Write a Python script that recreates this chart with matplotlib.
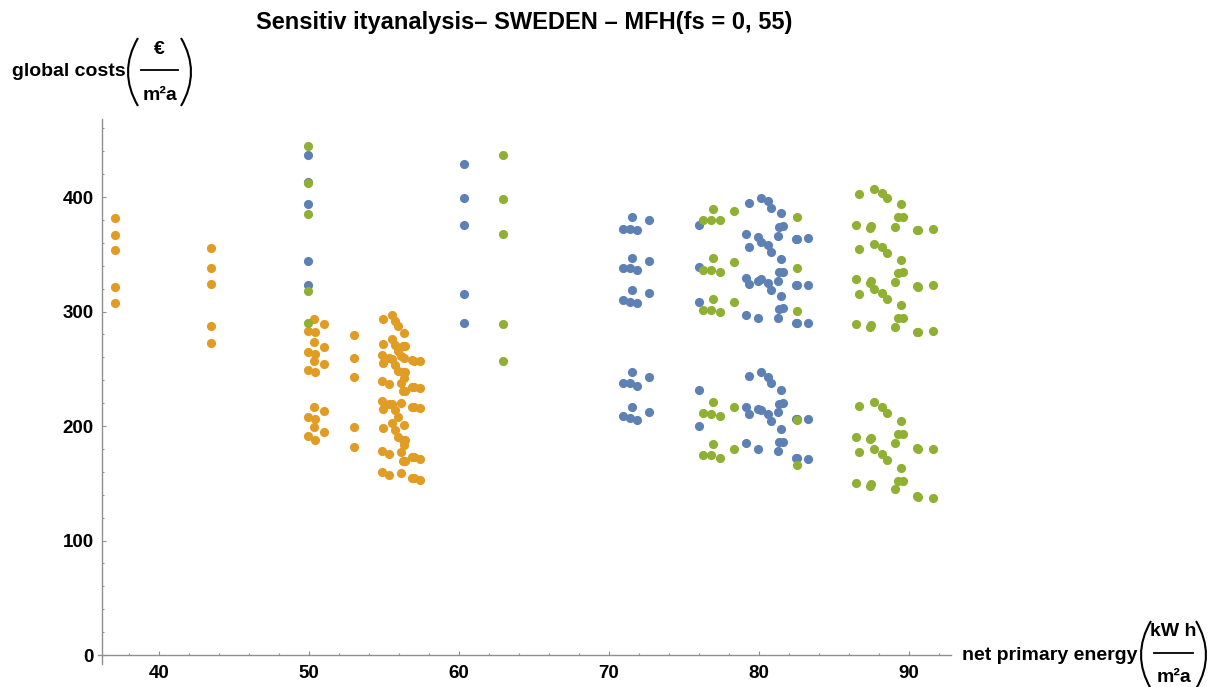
import matplotlib
matplotlib.use("Agg")
import matplotlib.pyplot as plt
from matplotlib.path import Path
from matplotlib.patches import PathPatch
from matplotlib.lines import Line2D
from matplotlib.ticker import FixedLocator

plt.rcParams['font.family'] = ['Liberation Sans', 'DejaVu Sans']
plt.rcParams['font.weight'] = 'bold'

BLUE = '#5E81B5'
ORANGE = '#E19C24'
GREEN = '#8FB032'
AXIS_GREY = '#8f8f8f'

# ---- blue series ----
blue_col50 = (49.91, [437.0, 413.0, 393.5, 344.0, 323.5])
blue_col60 = (60.36, [428.5, 399.4, 375.5, 315.0, 290.2])
blue_col76 = (76.0, [375.5, 339.2, 308.6, 231.4, 200.3])
blue_g71_x = [71.53, 70.95, 71.4, 71.85, 72.67]
blue_g71_y = [
    [382.2, 371.8, 371.8, 371.2, 379.9],
    [347.0, 337.7, 337.7, 336.2, 344.4],
    [318.8, 310.0, 308.6, 307.1, 315.9],
    [246.9, 237.3, 237.3, 234.9, 242.5],
    [216.9, 208.7, 207.3, 205.2, 212.5],
]
blue_g80_x = [79.36, 80.13, 80.58, 80.8, 81.47, 81.36, 81.62, 81.24, 79.11, 79.91, 82.44, 82.56, 83.29]
blue_g80_y = [
    [394.5, 399.4, 396.5, 390.7, 385.7, 374.1, 375.0, 366.2, 367.4, 365.4, 363.3, 363.3, 364.5],
    [356.0, 361.0, 358.1, 352.3, 345.9, 334.2, 334.8, 326.6, 329.0, 326.9, 323.1, 323.1, 323.1],
    [323.7, 328.1, 324.6, 318.8, 313.8, 302.2, 302.8, 294.6, 296.9, 294.6, 290.2, 290.2, 290.2],
    [243.7, 247.5, 243.1, 237.3, 231.4, 218.9, 219.8, 211.9, 216.9, 214.8, 206.1, 206.1, 205.8],
    [210.2, 214.0, 210.2, 204.4, 197.4, 185.7, 186.3, 178.2, 184.9, 179.9, 172.3, 172.3, 171.2],
]

# ---- orange series ----
orange_col37 = (37.05, [381.9, 366.6, 354.1, 321.1, 307.6])
orange_col43 = (43.45, [355.8, 338.2, 323.8, 287.5, 272.1])
orange_col53 = (53.0, [279.7, 259.1, 242.5, 199.1, 181.7])
orange_g50_x = [50.3, 51.0, 49.9, 50.4]
orange_g50_y = [
    [293.2, 289.1, 283.4, 281.8],
    [273.4, 269.3, 264.6, 262.9],
    [256.8, 254.1, 249.3, 246.9],
    [216.9, 212.8, 207.9, 206.1],
    [199.1, 195.0, 191.7, 187.8],
]
orange_g56_x = [54.95, 55.51, 55.73, 55.95, 56.35, 56.25, 56.42, 56.14, 54.84, 55.31, 56.87, 56.97, 57.42]
orange_g56_y = [
    [293.2, 296.9, 292.0, 287.3, 281.0, 270.0, 270.0, 260.9, 262.4, 259.7, 257.4, 257.0, 256.5],
    [271.8, 275.7, 270.6, 265.7, 259.0, 247.6, 247.6, 238.0, 239.6, 236.7, 234.3, 234.3, 233.4],
    [254.7, 258.6, 253.4, 248.5, 241.7, 230.2, 230.2, 220.5, 222.1, 219.2, 216.9, 216.9, 215.9],
    [215.1, 219.6, 213.8, 208.2, 200.6, 187.7, 187.7, 176.9, 178.6, 175.4, 172.7, 172.7, 171.6],
    [198.0, 202.5, 196.6, 190.8, 183.1, 169.8, 169.8, 158.6, 160.3, 157.1, 154.3, 154.3, 153.3],
]

# ---- green series ----
green_col50 = (49.91, [445.0, 412.0, 385.0, 318.0, 290.0])
green_col63 = (62.96, [436.7, 398.3, 367.4, 289.1, 257.1])
green_col82 = (82.51, [382.8, 337.7, 300.4, 205.2, 165.9])
green_g77_x = [76.91, 76.29, 76.78, 77.4, 78.36]
green_g77_y = [
    [390.0, 379.9, 379.9, 379.9, 388.1],
    [347.0, 336.2, 336.2, 334.8, 343.5],
    [310.6, 301.3, 301.3, 299.9, 308.6],
    [220.7, 211.1, 210.2, 209.0, 216.9],
    [184.0, 174.7, 174.7, 172.3, 179.6],
]
green_g89_x = [86.69, 87.69, 88.22, 88.51, 89.44, 89.29, 89.62, 89.07, 86.47, 87.4, 87.47, 90.51, 90.6, 91.62]
green_g89_y = [
    [402.6, 406.7, 403.8, 399.1, 394.2, 382.5, 382.8, 374.2, 375.7, 373.4, 374.8, 371.3, 370.8, 372.5],
    [354.9, 359.0, 356.1, 350.9, 344.8, 334.0, 334.3, 325.8, 328.2, 325.2, 326.6, 322.1, 321.6, 322.9],
    [315.6, 319.6, 316.4, 311.2, 305.4, 294.0, 294.3, 286.9, 288.9, 286.9, 288.3, 282.5, 282.0, 282.8],
    [217.8, 220.7, 216.6, 211.4, 204.1, 192.7, 192.7, 185.4, 190.7, 188.4, 189.8, 180.5, 180.0, 179.6],
    [177.3, 179.6, 175.3, 170.1, 163.1, 151.7, 151.7, 145.0, 150.5, 147.6, 149.0, 138.9, 138.4, 137.2],
]


def collect(columns, groups):
    xs, ys = [], []
    for x, vals in columns:
        xs += [x] * len(vals)
        ys += vals
    for gx, rows in groups:
        for row in rows:
            xs += gx
            ys += row
    return xs, ys


blue_x, blue_y = collect([blue_col50, blue_col60, blue_col76],
                         [(blue_g71_x, blue_g71_y), (blue_g80_x, blue_g80_y)])
orange_x, orange_y = collect([orange_col37, orange_col43, orange_col53],
                             [(orange_g50_x, orange_g50_y), (orange_g56_x, orange_g56_y)])
green_x, green_y = collect([green_col50, green_col63, green_col82],
                           [(green_g77_x, green_g77_y), (green_g89_x, green_g89_y)])

W, H = 1231, 687
fig = plt.figure(figsize=(W / 100, H / 100), dpi=100)


def fx(px):
    return px / W


def fy(py):
    return 1 - py / H


ax = fig.add_axes([fx(97.5), 22.8 / H, 853.5 / W, 545 / H])

for xs, ys, c in [(blue_x, blue_y, BLUE), (orange_x, orange_y, ORANGE), (green_x, green_y, GREEN)]:
    ax.plot(xs, ys, 'o', color=c, ms=6.6, mew=0, clip_on=False)

ax.set_xlim(35.9, 92.8)
ax.set_ylim(-8, 468)
ax.spines['top'].set_visible(False)
ax.spines['right'].set_visible(False)
ax.spines['left'].set_position(('data', 36.2))
ax.spines['bottom'].set_position(('data', 0))
for s in ('left', 'bottom'):
    ax.spines[s].set_color(AXIS_GREY)
    ax.spines[s].set_linewidth(1.0)

ax.set_xticks([40, 50, 60, 70, 80, 90])
ax.set_yticks([0, 100, 200, 300, 400])
ax.xaxis.set_minor_locator(FixedLocator([38, 42, 44, 46, 48, 52, 54, 56, 58, 62, 64, 66, 68,
                                         72, 74, 76, 78, 82, 84, 86, 88, 92]))
ax.yaxis.set_minor_locator(FixedLocator([v for v in range(20, 470, 20) if v % 100]))
ax.tick_params(which='both', direction='in', color=AXIS_GREY, width=0.8)
ax.tick_params(which='major', length=3.2)
ax.tick_params(which='minor', length=1.6)
ax.tick_params(axis='x', which='major', pad=7, labelsize=13.5)
ax.tick_params(axis='y', which='major', pad=6, labelsize=13.5)
for lab in ax.get_xticklabels() + ax.get_yticklabels():
    lab.set_fontweight('bold')

fig.text(fx(524), fy(22), 'Sensitiv ityanalysis– SWEDEN – MFH(fs = 0, 55)',
         ha='center', va='center', fontsize=17, fontweight='bold')


def paren(x_end, x_bulge, y_top, y_bot, lw=1.5):
    ym = (y_top + y_bot) / 2
    xc = 2 * x_bulge - x_end
    verts = [(fx(x_end), fy(y_top)), (fx(xc), fy(ym)), (fx(x_end), fy(y_bot))]
    p = Path(verts, [Path.MOVETO, Path.CURVE3, Path.CURVE3])
    fig.add_artist(PathPatch(p, fill=False, lw=lw, color='black', transform=fig.transFigure))


def frac_label(text, x_text_right, y_mid, num, den, x0, x1, y_top, y_bot, fs=14):
    fig.text(fx(x_text_right), fy(y_mid), text, ha='right', va='center', fontsize=fs)
    paren(x0 + 10, x0, y_top, y_bot)
    paren(x1 - 10, x1, y_top, y_bot)
    cx = (x0 + x1) / 2
    fig.add_artist(Line2D([fx(x0 + 13), fx(x1 - 13)], [fy(y_mid - 2), fy(y_mid - 2)],
                          color='black', lw=1.3, transform=fig.transFigure))
    fig.text(fx(cx), fy(y_mid - 23), num, ha='center', va='center', fontsize=fs)
    fig.text(fx(cx), fy(y_mid + 23), den, ha='center', va='center', fontsize=fs)


frac_label('global costs', 126, 72, '€', 'm²a', 128, 191, 38, 106)
frac_label('net primary energy', 1138, 655, 'kW h', 'm²a', 1141, 1206, 621, 689)

fig.savefig('out.png', dpi=100)
